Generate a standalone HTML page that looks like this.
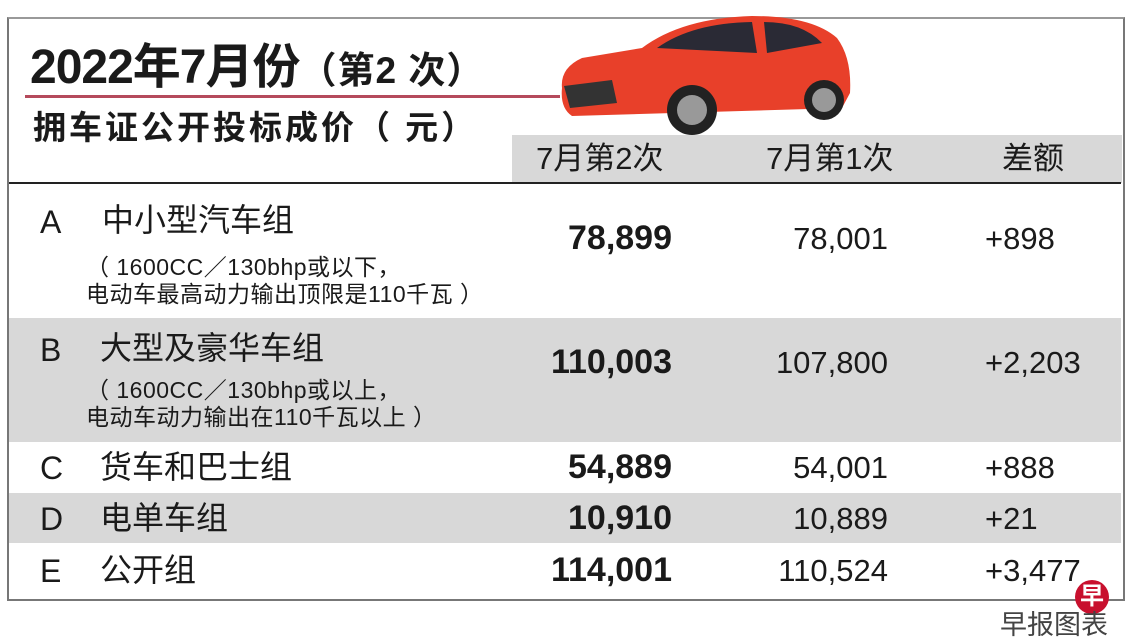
<!DOCTYPE html>
<html><head><meta charset="utf-8"><style>
*{margin:0;padding:0}
body{width:1140px;height:644px;background:#fff;position:relative;overflow:hidden;font-family:"Liberation Sans","Noto Sans CJK SC",sans-serif;color:#1a1a1a}
.a{position:absolute;white-space:nowrap;line-height:1.2}
.box{position:absolute;left:7px;top:17px;width:1114px;height:580px;border:2px solid #777;border-top-color:#999}
.g{position:absolute;background:#d8d8d8}
.r{text-align:right}
.n{font-size:34px;font-weight:bold}
.m{font-size:31px}
.nm{font-size:32px}
.s{font-size:23px;line-height:27px;letter-spacing:0.5px}
</style></head><body>
<div class="box"></div>
<div class="g" style="left:512px;top:135px;width:610px;height:48px"></div>
<div class="g" style="left:9px;top:318px;width:1112px;height:124px"></div>
<div class="g" style="left:9px;top:493px;width:1112px;height:50px"></div>
<div class="a" style="left:9px;top:182px;width:1112px;height:2px;background:#222"></div>
<div class="a" style="left:25px;top:95px;width:535px;height:3px;background:#b54a5c"></div>
<div class="a" style="left:30px;top:39px;font-size:48px;font-weight:bold;letter-spacing:-1px">2022年7月份<span style="font-size:37px;letter-spacing:1px">（第2 次）</span></div>
<div class="a" style="left:33px;top:108px;font-size:33px;font-weight:bold;letter-spacing:3px">拥车证公开投标成价（ 元）</div>
<svg class="a" style="left:552px;top:8px" width="305" height="132" viewBox="0 0 305 132">
<path d="M10 80 Q8 60 30 50 L90 40 Q130 10 200 8 Q260 8 285 30 Q300 50 298 85 L290 100 L20 108 Q8 100 10 80Z" fill="#e8402a"/>
<path d="M105 40 Q140 15 200 14 L205 45 Z" fill="#2a2a35"/>
<path d="M212 14 Q250 14 270 35 L215 45Z" fill="#2a2a35"/>
<path d="M12 78 L60 72 L65 95 L18 100Z" fill="#333"/>
<circle cx="140" cy="102" r="25" fill="#222"/><circle cx="140" cy="102" r="15" fill="#999"/>
<circle cx="272" cy="92" r="20" fill="#222"/><circle cx="272" cy="92" r="12" fill="#999"/>
</svg>
<div class="a m" style="left:536px;top:140px">7月第2次</div>
<div class="a m" style="left:766px;top:140px">7月第1次</div>
<div class="a m" style="left:1002px;top:140px">差额</div>

<div class="a nm" style="left:40px;top:203px">A</div>
<div class="a nm" style="left:102px;top:201px">中小型汽车组</div>
<div class="a s" style="left:86px;top:254px">（ 1600CC／130bhp或以下，<br>电动车最高动力输出顶限是110千瓦 ）</div>
<div class="a n r" style="right:468px;top:218px">78,899</div>
<div class="a m r" style="right:252px;top:220px">78,001</div>
<div class="a m" style="left:985px;top:220px">+898</div>

<div class="a nm" style="left:40px;top:331px">B</div>
<div class="a nm" style="left:100px;top:329px">大型及豪华车组</div>
<div class="a s" style="left:86px;top:377px">（ 1600CC／130bhp或以上，<br>电动车动力输出在110千瓦以上 ）</div>
<div class="a n r" style="right:468px;top:342px">110,003</div>
<div class="a m r" style="right:252px;top:344px">107,800</div>
<div class="a m" style="left:985px;top:344px">+2,203</div>

<div class="a nm" style="left:40px;top:449px">C</div>
<div class="a nm" style="left:100px;top:448px">货车和巴士组</div>
<div class="a n r" style="right:468px;top:447px">54,889</div>
<div class="a m r" style="right:252px;top:449px">54,001</div>
<div class="a m" style="left:985px;top:449px">+888</div>

<div class="a nm" style="left:40px;top:500px">D</div>
<div class="a nm" style="left:100px;top:499px">电单车组</div>
<div class="a n r" style="right:468px;top:498px">10,910</div>
<div class="a m r" style="right:252px;top:500px">10,889</div>
<div class="a m" style="left:985px;top:500px">+21</div>

<div class="a nm" style="left:40px;top:552px">E</div>
<div class="a nm" style="left:100px;top:551px">公开组</div>
<div class="a n r" style="right:468px;top:550px">114,001</div>
<div class="a m r" style="right:252px;top:552px">110,524</div>
<div class="a m" style="left:985px;top:552px">+3,477</div>

<div class="a" style="left:1075px;top:580px;width:34px;height:34px;border-radius:50%;background:#c8102e;color:#fff;font-size:24px;font-weight:bold;text-align:center;line-height:34px">早</div>
<div class="a" style="left:1000px;top:609px;font-size:27px;color:#444">早报图表</div>
</body></html>
